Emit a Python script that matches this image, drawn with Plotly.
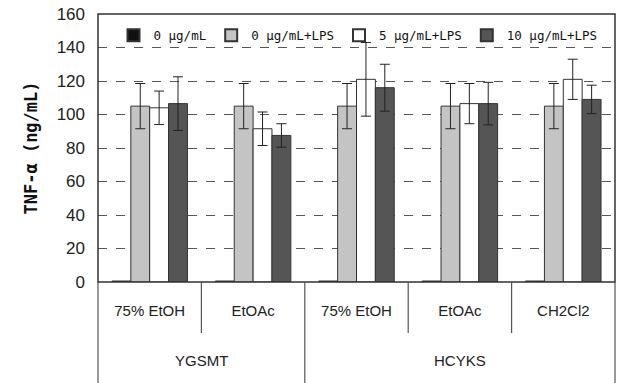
import plotly.graph_objects as go

groups = ["YGSMT", "YGSMT", "HCYKS", "HCYKS", "HCYKS"]
subcats = ["75% EtOH", "EtOAc", "75% EtOH", "EtOAc", "CH2Cl2"]
series_names = ["0 μg/mL", "0 μg/mL+LPS", "5 μg/mL+LPS", "10 μg/mL+LPS"]
vals_0 = [0.6, 0.6, 0.6, 0.6, 0.6]
vals_0lps = [105, 105, 105, 105, 105]
vals_5lps = [104, 91.5, 121, 106.5, 121]
vals_10lps = [106.5, 87.5, 116, 106.5, 109]
err_0 = [0, 0, 0, 0, 0]
err_0lps = [13.5, 13.5, 13.5, 13.5, 13.5]
err_5lps = [10, 10, 22, 12, 12]
err_10lps = [16, 7, 14, 12.7, 8.5]
y_ticks = [0, 20, 40, 60, 80, 100, 120, 140, 160]

colors = ["#111111", "#c4c4c4", "#ffffff", "#555555"]
all_vals = [vals_0, vals_0lps, vals_5lps, vals_10lps]
all_errs = [err_0, err_0lps, err_5lps, err_10lps]

x = list(range(len(subcats)))
fig = go.Figure()
for name, v, e, c in zip(series_names, all_vals, all_errs, colors):
    fig.add_trace(go.Bar(
        x=x, y=v, name=name,
        marker=dict(color=c, line=dict(color="#333333", width=1)),
        error_y=dict(type="data", array=e, visible=any(val > 0 for val in e),
                     color="#222222", thickness=1, width=5),
    ))

font_tick = "Liberation Sans Narrow, Arial Narrow, Liberation Sans, sans-serif"
fig.update_layout(
    width=618, height=383,
    margin=dict(l=98, r=3, t=14, b=101),
    paper_bgcolor="white", plot_bgcolor="white",
    barmode="group", bargap=0.27, bargroupgap=0,
    showlegend=True,
    legend=dict(orientation="h", x=0.03, y=0.975, xanchor="left", yanchor="top",
                font=dict(family="DejaVu Sans Mono, monospace", size=12.5, color="#111111"),
                bgcolor="rgba(0,0,0,0)", itemwidth=30, tracegroupgap=0,
                itemsizing="constant"),
    yaxis=dict(range=[0, 160], tickvals=y_ticks, showgrid=True,
               gridcolor="#555555", griddash="dash", gridwidth=1,
               showline=False, zeroline=False, ticks="",
               ticklabelstandoff=12,
               tickfont=dict(family=font_tick, size=17, color="#222222"),
               title=dict(text="<b>TNF-α (ng/mL)</b>", standoff=14,
                          font=dict(family="DejaVu Sans Mono, monospace", size=17, color="#111111"))),
    xaxis=dict(range=[-0.5, len(subcats) - 0.5], tickvals=x, ticktext=subcats,
               showgrid=False, zeroline=False, showline=False, ticks="",
               tickfont=dict(family=font_tick, size=15, color="#222222"),
               ticklabelstandoff=18),
)

# plot frame
fig.add_shape(type="rect", xref="paper", yref="paper", x0=0, x1=1, y0=0, y1=1,
              line=dict(color="#333333", width=1.5), fillcolor="rgba(0,0,0,0)")
# category box lines
fig.add_shape(type="line", xref="paper", yref="paper", x0=0, x1=0, y0=0, y1=-101/268,
              line=dict(color="#555555", width=1.2))
fig.add_shape(type="line", xref="paper", yref="paper", x0=1, x1=1, y0=0, y1=-101/268,
              line=dict(color="#555555", width=1.2))
for i in range(1, len(subcats)):
    if groups[i] != groups[i - 1]:
        y1 = -101 / 268
    else:
        y1 = -51 / 268
    fig.add_shape(type="line", xref="x", yref="paper", x0=i - 0.5, x1=i - 0.5,
                  y0=0, y1=y1, line=dict(color="#555555", width=1.2))

# group labels
seen = []
for g in groups:
    if g not in seen:
        seen.append(g)
for g in seen:
    idx = [i for i, gg in enumerate(groups) if gg == g]
    fig.add_annotation(x=sum(idx) / len(idx), y=-78 / 268, xref="x", yref="paper",
                       yanchor="middle", text=g, showarrow=False,
                       font=dict(family=font_tick, size=15, color="#222222"))

fig.write_html("out.html")
